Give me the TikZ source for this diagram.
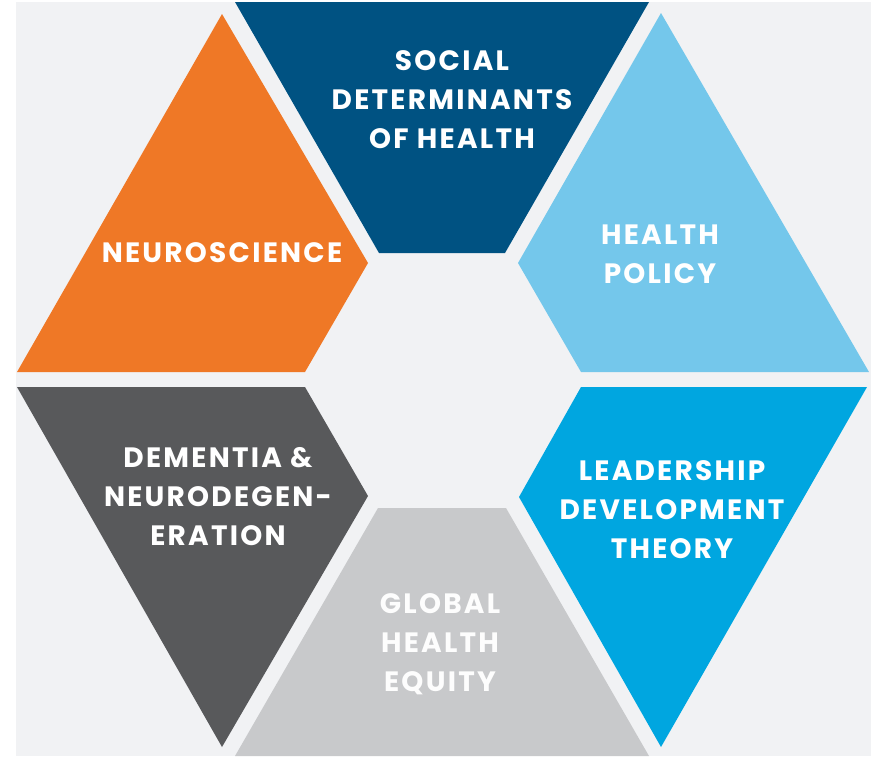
\documentclass[tikz,border=0pt]{standalone}
\usepackage{fontspec}
\newfontfamily\labfont{Poppins}[LetterSpace=8]
\definecolor{bgc}{HTML}{F1F2F4}
\definecolor{orangec}{HTML}{EF7826}
\definecolor{navyc}{HTML}{005282}
\definecolor{skyc}{HTML}{74C7EB}
\definecolor{brightc}{HTML}{00A6E0}
\definecolor{darkgc}{HTML}{58595B}
\definecolor{lightgc}{HTML}{C8C9CB}
\begin{document}
\begin{tikzpicture}[x=1pt,y=-1pt,
  lab/.style={text=white,align=center,font=\labfont\bfseries\fontsize{28}{39}\selectfont,inner sep=0pt}]
\useasboundingbox (0,0) rectangle (874,756);
\fill[white] (0,0) rectangle (874,756);
\fill[bgc] (16,2) rectangle (871,756);
% top row
\fill[orangec] (222,14) -- (368,263) -- (305,372) -- (17,372) -- cycle;
\fill[navyc] (235,2) -- (649,2) -- (505,253) -- (379,253) -- cycle;
\fill[skyc] (661,13) -- (869,372) -- (581,372) -- (518,263) -- cycle;
% bottom row
\fill[darkgc] (17,387) -- (305,387) -- (368,496) -- (222,747) -- cycle;
\fill[lightgc] (378,508) -- (506,508) -- (649,756) -- (235,756) -- cycle;
\fill[brightc] (581,387) -- (867,387) -- (661,747) -- (519,497) -- cycle;
% labels
\node[lab] (sdh) at (452,100) {SOCIAL\\DETERMINANTS\\OF HEALTH};
\node[lab] (hp) at (660,254) {HEALTH\\POLICY};
\node[lab] (neu) at (222,253) {NEUROSCIENCE};
\node[lab] (dem) at (218,497) {DEMENTIA \&\\NEURODEGEN-\\ERATION};
\node[lab] (ldt) at (672,510) {LEADERSHIP\\DEVELOPMENT\\THEORY};
\node[lab,text=white!97!lightgc] (ghe) at (440,644) {GLOBAL\\HEALTH\\EQUITY};
\end{tikzpicture}
\end{document}
